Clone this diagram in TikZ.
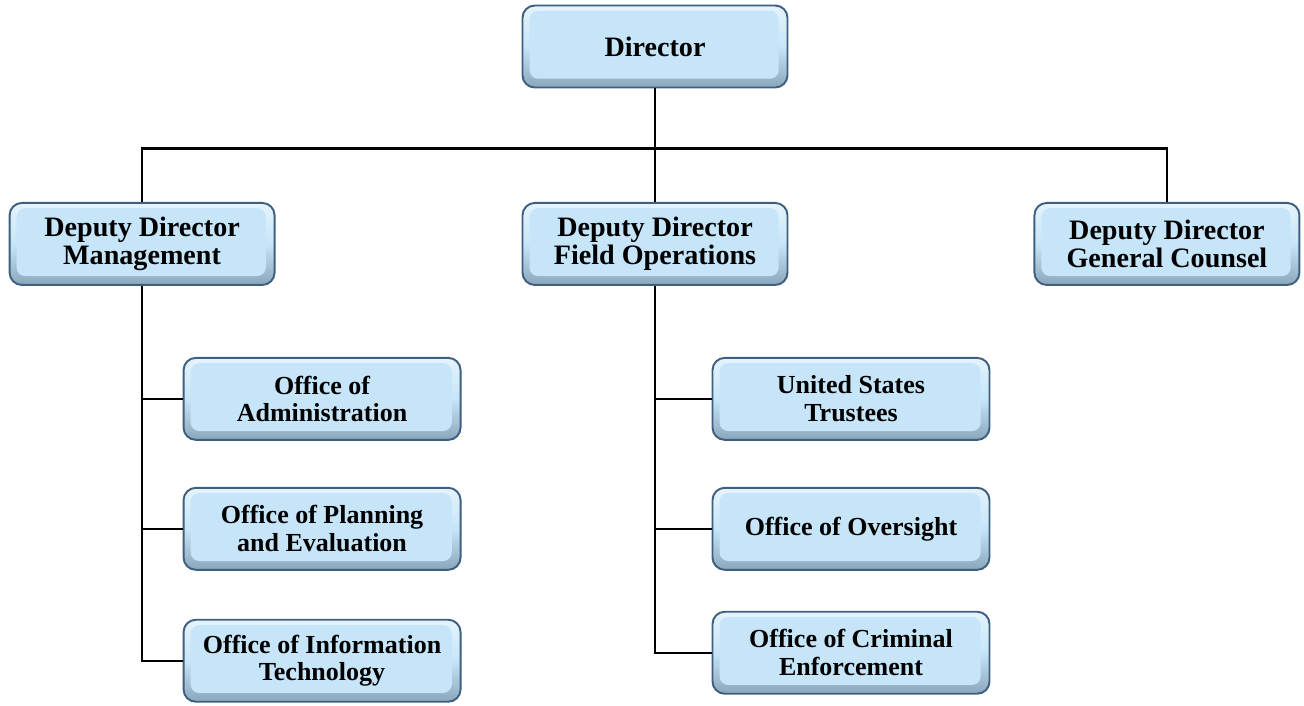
\documentclass[tikz,border=0pt]{standalone}
\usepackage{fontspec}
\setmainfont{Liberation Serif}
\usetikzlibrary{positioning}

\definecolor{boxblue}{HTML}{C6E5F8}
\definecolor{boxedge}{HTML}{3F5F7F}
\definecolor{boxdark}{HTML}{8AA6BC}

\begin{document}
\begin{tikzpicture}[
        box/.style={draw=boxedge, line width=1.1pt, rounded corners=7pt, align=center,
            top color=white!55!boxblue, bottom color=boxdark, middle color=boxblue,
            font=\bfseries\fontsize{16pt}{16.2pt}\selectfont,
            path picture={\fill[boxblue, rounded corners=5pt]
                ([shift={(4pt,-3pt)}]path picture bounding box.north west) rectangle
                ([shift={(-5pt,5pt)}]path picture bounding box.south east);}},
        head/.style={box, minimum width=5.3cm, minimum height=1.64cm},
        office/.style={box, minimum width=5.54cm, minimum height=1.64cm,
            font=\bfseries\fontsize{14.8pt}{15.8pt}\selectfont},
        link/.style={line width=1.4pt, black}
    ]
    \useasboundingbox (0,0) rectangle (26.08,-14.1);

    % Top
    \node[head] (dir) at (13.1,-0.93) {Director};

    % Level 1: deputies
    \node[head, below=2.27cm of dir] (ddfield) {Deputy Director\\Field Operations};
    \node[head, left=4.92cm of ddfield] (ddmgmt) {Deputy Director\\Management};
    \node[head, right=4.9cm of ddfield] (ddcounsel) {Deputy Director\\General Counsel};

    % Edges Director -> deputies
    \coordinate[below=1.2cm of dir.south] (bus);
    \draw[link] (dir) -- (bus);
    \draw[link] (ddmgmt) |- (bus) -| (ddcounsel);
    \draw[link] (bus) -- (ddfield);

    % Management offices
    \node[office, below=1.42cm of ddmgmt, xshift=3.6cm] (oadmin) {Office of\\Administration};
    \node[office, below=0.92cm of oadmin] (oplan) {Office of Planning\\and Evaluation};
    \node[office, below=0.96cm of oplan] (oit) {Office of Information\\Technology};
    \draw[link] (ddmgmt.south) |- (oadmin.west);
    \draw[link] (ddmgmt.south) |- (oplan.west);
    \draw[link] (ddmgmt.south) |- (oit.west);

    % Field Operations offices
    \node[office, below=1.42cm of ddfield, xshift=3.92cm] (ust) {United States\\Trustees};
    \node[office, below=0.92cm of ust] (oover) {Office of Oversight};
    \node[office, below=0.8cm of oover] (ocrim) {Office of Criminal\\Enforcement};
    \draw[link] (ddfield.south) |- (ust.west);
    \draw[link] (ddfield.south) |- (oover.west);
    \draw[link] (ddfield.south) |- (ocrim.west);

\end{tikzpicture}
\end{document}
